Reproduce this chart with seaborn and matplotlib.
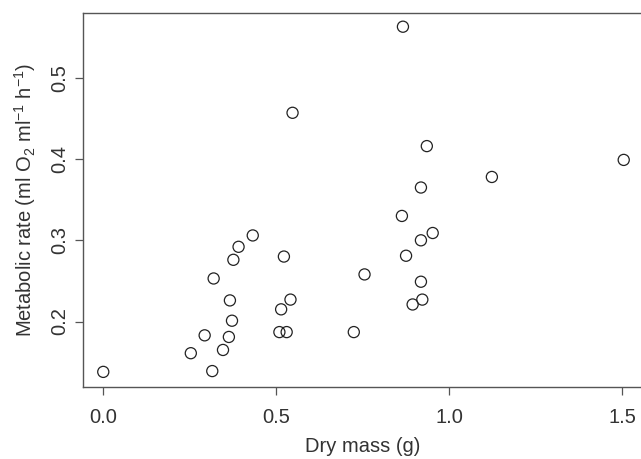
"""
Metabolic rate vs dry mass scatter plot
"""
import matplotlib
matplotlib.use("Agg")
import matplotlib.pyplot as plt
import seaborn as sns
import pandas as pd

# Data
dry_mass = [0.000, 0.866, 0.547, 0.935, 1.504, 1.123, 0.918, 0.863,
            0.432, 0.952, 0.918, 0.391, 0.376, 0.875, 0.522, 0.755,
            0.319, 0.918, 0.366, 0.541, 0.922, 0.894, 0.514, 0.372,
            0.293, 0.363, 0.509, 0.530, 0.724, 0.346, 0.253, 0.315]
metabolic_rate = [0.138, 0.563, 0.457, 0.416, 0.399, 0.378, 0.365, 0.330,
                  0.306, 0.309, 0.300, 0.292, 0.276, 0.281, 0.280, 0.258,
                  0.253, 0.249, 0.226, 0.227, 0.227, 0.221, 0.215, 0.201,
                  0.183, 0.181, 0.187, 0.187, 0.187, 0.165, 0.161, 0.139]
x_ticks = [0.0, 0.5, 1.0, 1.5]
y_ticks = [0.2, 0.3, 0.4, 0.5]

df = pd.DataFrame({"Dry mass": dry_mass, "Metabolic rate": metabolic_rate})

sns.set_style("ticks")
plt.rcParams['font.family'] = ['Liberation Sans', 'DejaVu Sans']
plt.rcParams['mathtext.fontset'] = 'custom'
plt.rcParams['mathtext.rm'] = 'Liberation Sans'
plt.rcParams['mathtext.it'] = 'Liberation Sans:italic'

text_color = '#333333'
line_color = '#555555'

fig = plt.figure(figsize=(6.41, 4.59), dpi=100)
ax = fig.add_axes([82.5 / 641, (459 - 386.5) / 459, 560.6 / 641, 373.6 / 459])

sns.scatterplot(data=df, x="Dry mass", y="Metabolic rate", ax=ax,
                s=64, facecolor='none', edgecolor='#222222', linewidth=0.9)

ax.set_xlim(-0.06, 1.56)
ax.set_ylim(0.12, 0.58)
ax.set_xticks(x_ticks)
ax.set_xticklabels([f"{v:.1f}" for v in x_ticks])
ax.set_yticks(y_ticks)
ax.set_yticklabels([f"{v:.1f}" for v in y_ticks], rotation=90, va='center')

ax.tick_params(axis='both', length=6, width=0.9, color=line_color,
               labelsize=14.5, labelcolor=text_color)
ax.tick_params(axis='x', pad=9.5)
ax.tick_params(axis='y', pad=3.5)

for side in ['left', 'bottom', 'top', 'right']:
    ax.spines[side].set_color(line_color)
    ax.spines[side].set_linewidth(1.0)

ax.set_xlabel("Dry mass (g)", fontsize=14.5, color=text_color, labelpad=7)
ax.set_ylabel(r"Metabolic rate (ml O$_2$ ml$^{-1}$ h$^{-1}$)",
              fontsize=14.5, color=text_color, labelpad=9)

fig.savefig("out.png", dpi=100)
